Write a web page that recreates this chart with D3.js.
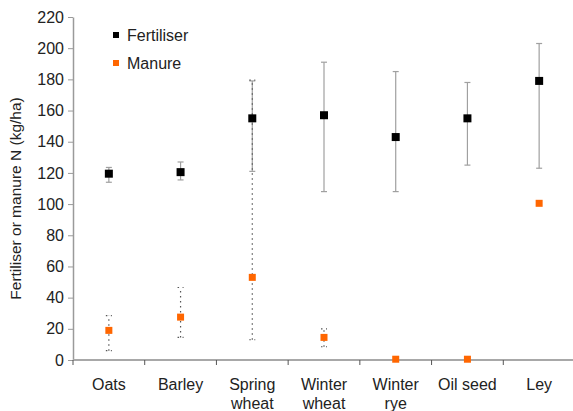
<!DOCTYPE html>
<html>
<head>
<meta charset="utf-8">
<script src="https://cdn.jsdelivr.net/npm/d3@7"></script>
<style>
  body { margin: 0; background: #fff; }
  svg { display: block; font-family: "Liberation Sans", Arial, sans-serif; }
</style>
</head>
<body>
<div id="chart"></div>
<script>
// crops on the x axis (label lines)
const crops = ["Oats", "Barley", "Spring wheat", "Winter wheat", "Winter rye", "Oil seed", "Ley"];
const cropLines = [["Oats"], ["Barley"], ["Spring", "wheat"], ["Winter", "wheat"], ["Winter", "rye"], ["Oil seed"], ["Ley"]];

// Fertiliser N (kg/ha): mean, low, high
const fertMean = [119.5, 120.5, 155, 157, 143, 155, 179];
const fertLow  = [114, 115.5, 121, 108, 108, 125, 123];
const fertHigh = [123.5, 127, 179, 191, 185, 178, 203];

// Manure N (kg/ha): mean, low, high
const manMean = [19, 27.5, 53, 14.5, 0.5, 0.5, 100.5];
const manLow  = [6, 14.5, 13, 8.5, null, null, null];
const manHigh = [28.5, 46.5, 179.5, 20, null, null, null];

const yTicks = [0, 20, 40, 60, 80, 100, 120, 140, 160, 180, 200, 220];

const W = 573, H = 411;
const margin = { top: 17, right: -2, bottom: 51, left: 73 };

const svg = d3.select("#chart").append("svg")
    .attr("width", W)
    .attr("height", H);

const x = d3.scaleBand()
    .domain(crops)
    .range([margin.left, W - margin.right])
    .padding(0);

const y = d3.scaleLinear()
    .domain([0, 220])
    .range([H - margin.bottom, margin.top]);

// y axis
const yAxis = svg.append("g")
    .attr("transform", `translate(${margin.left},0)`)
    .call(d3.axisLeft(y).tickValues(yTicks).tickSize(5).tickPadding(4).tickSizeOuter(0));
yAxis.select(".domain").attr("stroke", "#9a9a9a").attr("stroke-width", 1.5);
yAxis.selectAll(".tick line").attr("stroke", "#9a9a9a");
yAxis.selectAll("text").attr("font-size", 16).attr("fill", "#222");

// x axis line with ticks between categories
const xBase = y(0);
svg.append("line")
    .attr("x1", margin.left).attr("x2", W)
    .attr("y1", xBase).attr("y2", xBase)
    .attr("stroke", "#a8a8a8").attr("stroke-width", 2);

svg.append("g").selectAll("line")
    .data(crops)
    .join("line")
    .attr("x1", d => x(d)).attr("x2", d => x(d))
    .attr("y1", xBase).attr("y2", xBase + 5)
    .attr("stroke", "#555");

const labels = svg.append("g").selectAll("text")
    .data(crops)
    .join("text")
    .attr("x", d => x(d) + x.bandwidth() / 2)
    .attr("y", 390)
    .attr("text-anchor", "middle")
    .attr("font-size", 16)
    .attr("fill", "#222");
labels.each(function(d, i) {
    d3.select(this).selectAll("tspan")
        .data(cropLines[i])
        .join("tspan")
        .attr("x", x(d) + x.bandwidth() / 2)
        .attr("dy", (t, j) => j === 0 ? 0 : 19)
        .text(t => t);
});

// y label
svg.append("text")
    .attr("transform", `translate(21,${(y(0) + y(220)) / 2 + 10}) rotate(-90)`)
    .attr("text-anchor", "middle")
    .attr("font-size", 15.5)
    .attr("fill", "#222")
    .text("Fertiliser or manure N (kg/ha)");

const cx = i => x(crops[i]) + x.bandwidth() / 2;
const capW = 3;

// fertiliser error bars (solid grey)
const fErr = svg.append("g").attr("stroke", "#a0a0a0").attr("stroke-width", 1.2);
crops.forEach((c, i) => {
    fErr.append("line").attr("x1", cx(i)).attr("x2", cx(i))
        .attr("y1", y(fertLow[i])).attr("y2", y(fertHigh[i]));
    [fertLow[i], fertHigh[i]].forEach(v => {
        fErr.append("line").attr("x1", cx(i) - capW).attr("x2", cx(i) + capW)
            .attr("y1", y(v)).attr("y2", y(v));
    });
});

// manure error bars (dotted dark)
const mErr = svg.append("g").attr("stroke", "#555").attr("stroke-width", 1.2)
    .attr("stroke-dasharray", "1.5,3.5");
crops.forEach((c, i) => {
    if (manLow[i] == null) return;
    mErr.append("line").attr("x1", cx(i)).attr("x2", cx(i))
        .attr("y1", y(manLow[i])).attr("y2", y(manHigh[i]));
    [manLow[i], manHigh[i]].forEach(v => {
        mErr.append("line").attr("x1", cx(i) - capW).attr("x2", cx(i) + capW)
            .attr("y1", y(v)).attr("y2", y(v));
    });
});

// markers
const fs = 8, ms = 7;
svg.append("g").selectAll("rect")
    .data(fertMean)
    .join("rect")
    .attr("x", (d, i) => cx(i) - fs / 2)
    .attr("y", d => y(d) - fs / 2)
    .attr("width", fs).attr("height", fs)
    .attr("fill", "#000");

svg.append("g").selectAll("rect")
    .data(manMean)
    .join("rect")
    .attr("x", (d, i) => cx(i) - ms / 2)
    .attr("y", d => y(d) - ms / 2)
    .attr("width", ms).attr("height", ms)
    .attr("fill", "#ff6600");

// legend
const legend = [["Fertiliser", "#000"], ["Manure", "#ff6600"]];
const lg = svg.append("g");
legend.forEach(([name, col], i) => {
    const ly = 35 + i * 28;
    lg.append("rect").attr("x", 113).attr("y", ly - 3).attr("width", 6).attr("height", 6).attr("fill", col);
    lg.append("text").attr("x", 127).attr("y", ly + 6)
        .attr("font-size", 16).attr("fill", "#222").text(name);
});
</script>
</body>
</html>
